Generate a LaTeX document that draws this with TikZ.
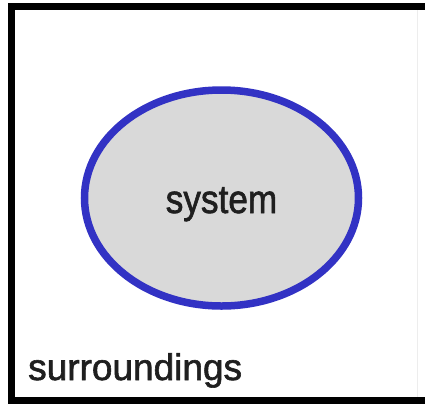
\documentclass[tikz,border=0pt]{standalone}
\usepackage{fontspec}
\setmainfont{Liberation Sans}
\newfontfamily\heavysans[FakeBold=1.6]{Liberation Sans}
\definecolor{sysblue}{HTML}{3232C4}
\definecolor{sysgray}{HTML}{D9D9D9}
\tikzset{
  frameline/.style={line width=7pt, black},
  sysshape/.style={draw=sysblue, fill=sysgray, line width=7.5pt},
  lbl/.style={inner sep=0pt, text=black!88, font=\heavysans}
}
\begin{document}
\begin{tikzpicture}[x=1pt,y=-1pt]
\useasboundingbox (0,0) rectangle (425,405);
\fill[white] (0,0) rectangle (425,405);
% frame
\draw[frameline] (425,6.5) -- (11,6.5) -- (11,400.5) -- (425,400.5);
\draw[black!7, line width=1pt] (417,10) -- (417,397);
% system
\draw[sysshape] (221.5,198) ellipse [x radius=137, y radius=108];
\node[lbl, anchor=base, xscale=0.88] (sys) at (221.5,213) {\fontsize{40}{48}\selectfont system};
\node[lbl, anchor=base west] (sur) at (28,380) {\fontsize{37}{44}\selectfont surroundings};
\end{tikzpicture}
\end{document}
